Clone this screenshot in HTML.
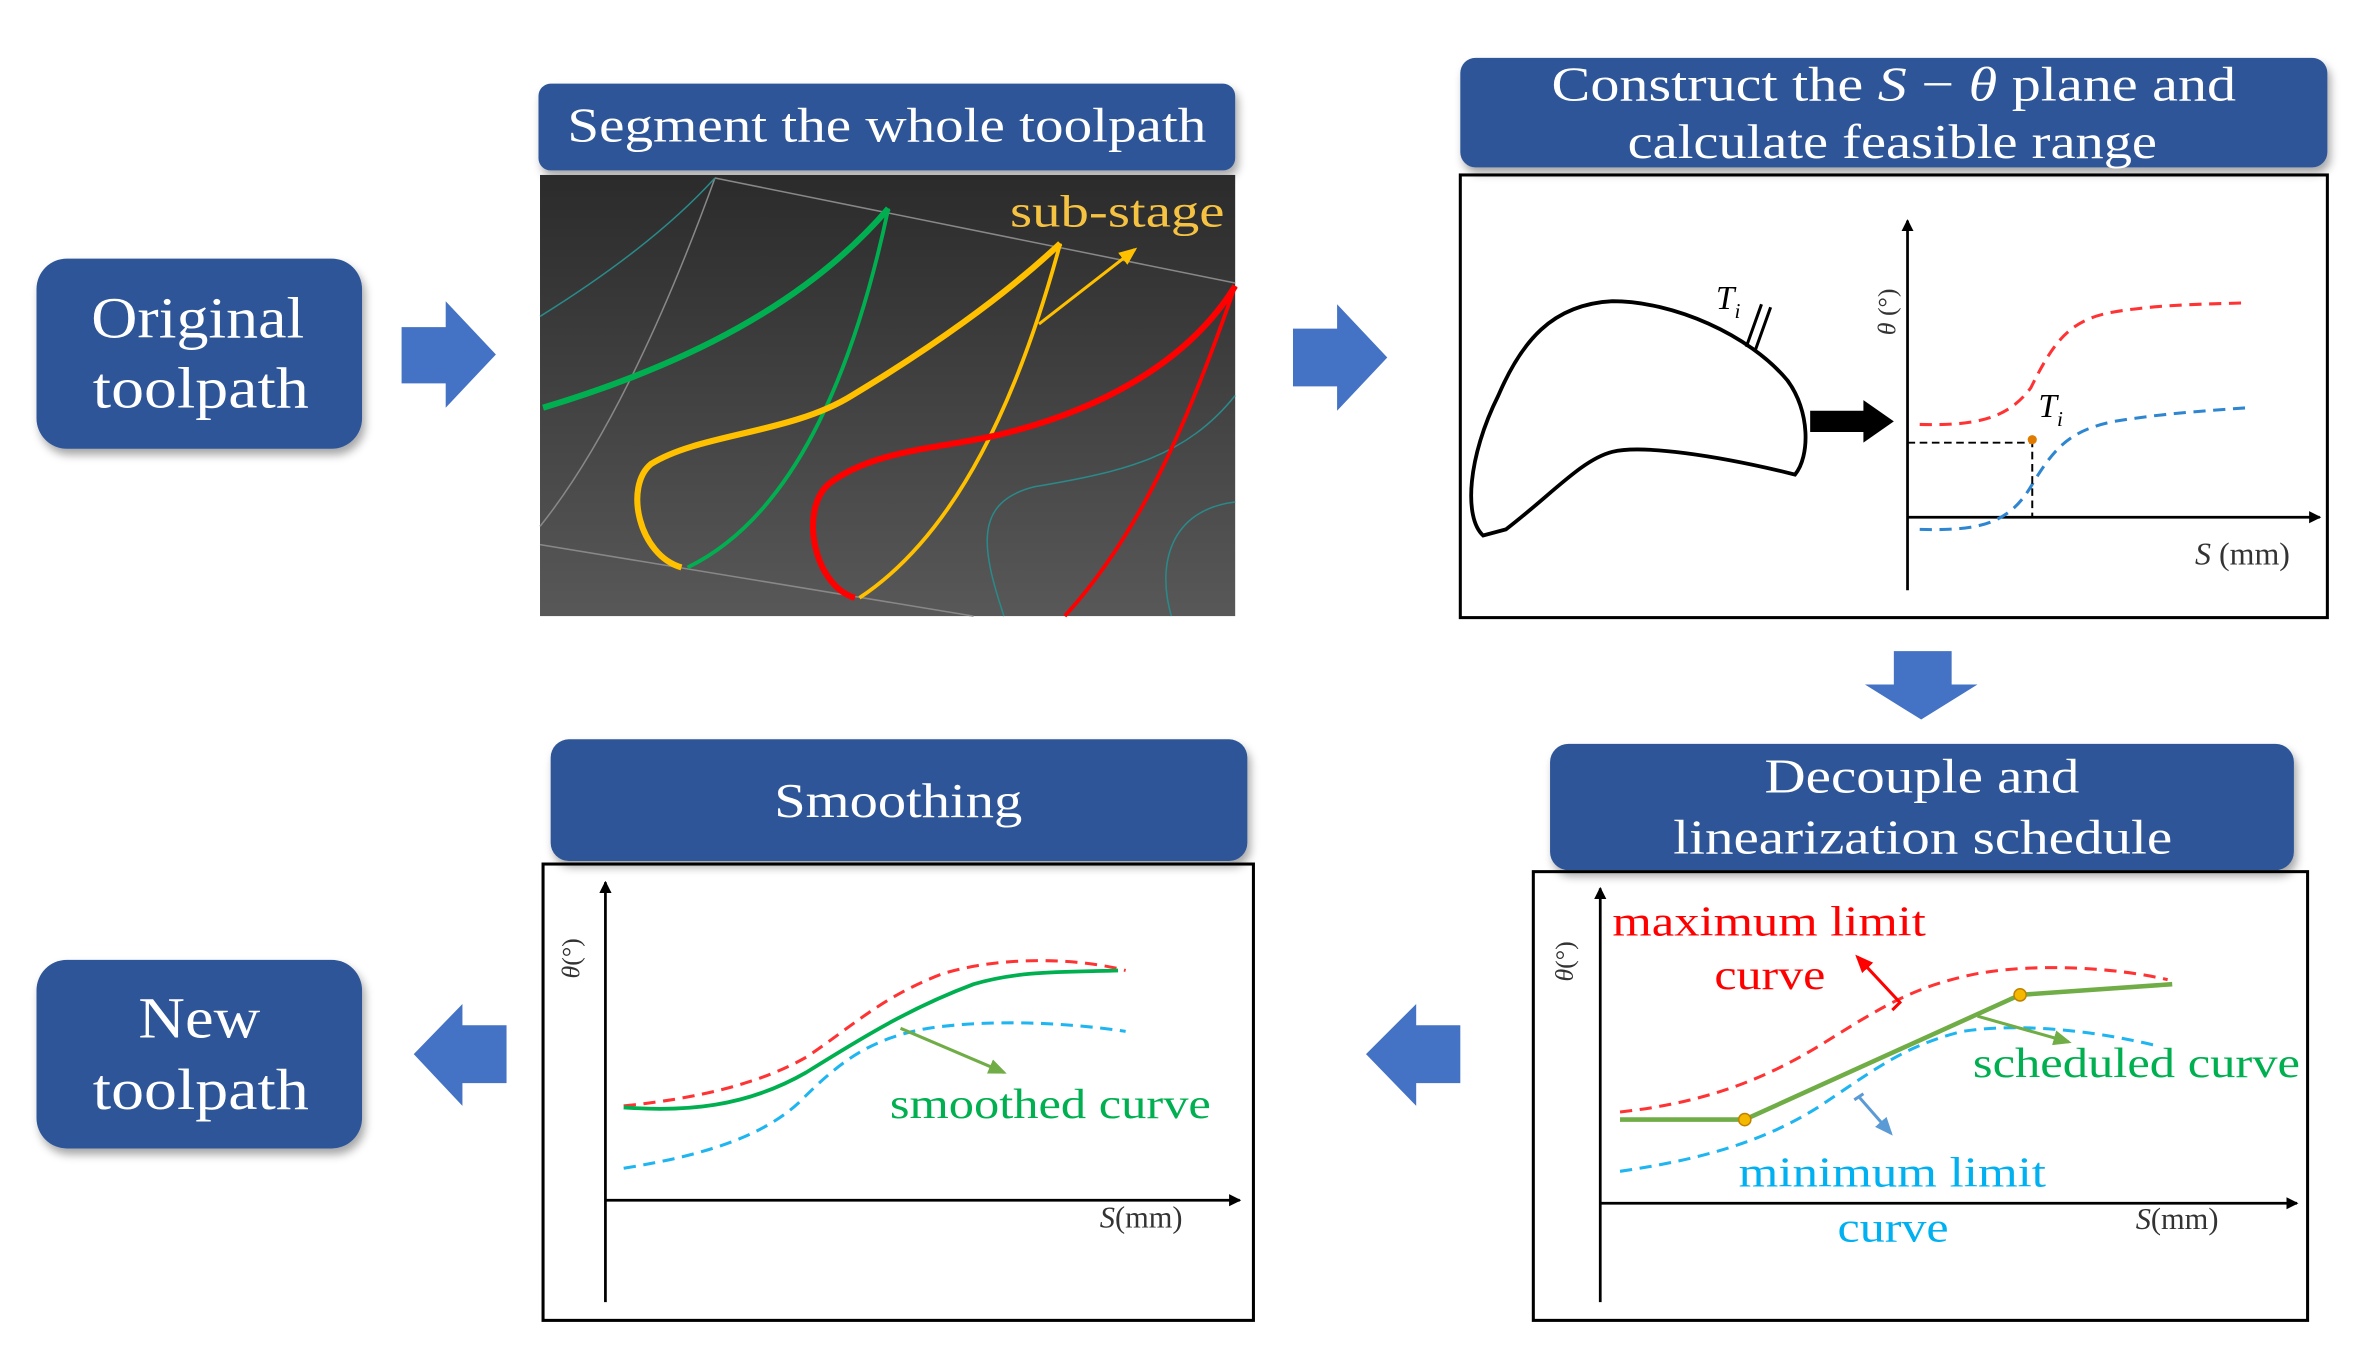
<!DOCTYPE html>
<html><head><meta charset="utf-8"><style>
html,body{margin:0;padding:0;background:#fff}
svg{display:block}
text{font-family:"Liberation Serif",serif}
</style></head><body>
<svg width="2373" height="1363" viewBox="0 0 1560 896" xmlns="http://www.w3.org/2000/svg">
<defs>
<filter id="sh" x="-10%" y="-10%" width="120%" height="130%"><feDropShadow dx="2" dy="4" stdDeviation="3" flood-color="#000" flood-opacity="0.35"/></filter>
<linearGradient id="dk" x1="0" y1="0" x2="0" y2="1"><stop offset="0" stop-color="#2b2b2b"/><stop offset="1" stop-color="#585858"/></linearGradient>
<marker id="ab" markerWidth="8" markerHeight="8" refX="7" refY="4" orient="auto" markerUnits="userSpaceOnUse"><path d="M0,0 L8,4 L0,8z" fill="#000"/></marker>
<marker id="ag" markerWidth="12" markerHeight="10" refX="10" refY="5" orient="auto" markerUnits="userSpaceOnUse"><path d="M0,0 L12,5 L0,10z" fill="#70AD47"/></marker>
<marker id="ar" markerWidth="12" markerHeight="10" refX="10" refY="5" orient="auto" markerUnits="userSpaceOnUse"><path d="M0,0 L12,5 L0,10z" fill="#f00"/></marker>
<marker id="abl" markerWidth="12" markerHeight="10" refX="10" refY="5" orient="auto" markerUnits="userSpaceOnUse"><path d="M0,0 L12,5 L0,10z" fill="#5B9BD5"/></marker>
<marker id="ay" markerWidth="12" markerHeight="10" refX="10" refY="5" orient="auto" markerUnits="userSpaceOnUse"><path d="M0,0 L12,5 L0,10z" fill="#FFC000"/></marker>
</defs>

<rect x="24" y="170" width="214" height="125" rx="20" fill="#2F5597" filter="url(#sh)"/>
<text x="60" y="222" font-size="38" fill="#fff" textLength="140" lengthAdjust="spacingAndGlyphs">Original</text>
<text x="61" y="268" font-size="38" fill="#fff" textLength="142" lengthAdjust="spacingAndGlyphs">toolpath</text>
<rect x="24" y="631" width="214" height="124" rx="20" fill="#2F5597" filter="url(#sh)"/>
<text x="91" y="682" font-size="38" fill="#fff" textLength="80" lengthAdjust="spacingAndGlyphs">New</text>
<text x="61" y="729" font-size="38" fill="#fff" textLength="142" lengthAdjust="spacingAndGlyphs">toolpath</text>

<path d="M264,215 L293,215 L293,198 L326,233 L293,268 L293,252 L264,252z" fill="#4472C4"/>
<path d="M850,216 L879,216 L879,200 L912,235 L879,270 L879,254 L850,254z" fill="#4472C4"/>
<path d="M1245,428 L1283,428 L1283,450 L1300,450 L1263,473 L1226,450 L1245,450z" fill="#4472C4"/>
<path d="M960,674 L931,674 L931,660 L898,693 L931,727 L931,712 L960,712z" fill="#4472C4"/>
<path d="M333,674 L304,674 L304,660 L272,693 L304,727 L304,712 L333,712z" fill="#4472C4"/>

<rect x="354" y="55" width="458" height="57" rx="8" fill="#2F5597" filter="url(#sh)"/>
<text x="373" y="93" font-size="32" fill="#fff" textLength="420" lengthAdjust="spacingAndGlyphs">Segment the whole toolpath</text>
<rect x="355" y="115" width="457" height="290" fill="url(#dk)"/>
<g fill="none">
<path d="M470,117 C440,200 400,290 355,346" stroke="#888" stroke-width="1"/>
<path d="M470,117 L812,186" stroke="#888" stroke-width="1"/>
<path d="M355,358 L640,405" stroke="#888" stroke-width="1"/>
<path d="M355,208 C400,180 440,150 470,117" stroke="#2a8a8a" stroke-width="1"/>
<path d="M660,405 C645,360 640,330 680,320 C740,310 780,300 812,260" stroke="#2a8a8a" stroke-width="1"/>
<path d="M770,405 C760,370 770,335 812,330" stroke="#2a8a8a" stroke-width="1"/>
<path d="M357,268 C450,240 530,200 584,137" stroke="#00B050" stroke-width="4"/>
<path d="M584,137 C560,250 520,340 452,373" stroke="#00B050" stroke-width="2.5"/>
<path d="M448,373 C420,365 410,320 428,305 C460,285 520,285 560,260 C610,230 660,195 697,160" stroke="#FFC000" stroke-width="4"/>
<path d="M697,160 C670,260 630,350 565,393" stroke="#FFC000" stroke-width="2.5"/>
<path d="M562,393 C535,385 525,335 545,318 C575,295 620,295 660,285 C720,270 780,240 812,188" stroke="#f00" stroke-width="4"/>
<path d="M812,188 C780,280 750,350 700,405" stroke="#f00" stroke-width="2.5"/>
<path d="M683,213 L746,164" stroke="#FFC000" stroke-width="2" marker-end="url(#ay)"/>
</g>
<text x="664" y="149" font-size="30" fill="#F5C242" textLength="141" lengthAdjust="spacingAndGlyphs">sub-stage</text>

<rect x="960" y="38" width="570" height="72" rx="10" fill="#2F5597" filter="url(#sh)"/>
<text x="1020" y="66" font-size="32" fill="#fff" textLength="450" lengthAdjust="spacingAndGlyphs">Construct the <tspan font-style="italic">S</tspan> − <tspan font-style="italic">θ</tspan> plane and</text>
<text x="1070" y="104" font-size="32" fill="#fff" textLength="348" lengthAdjust="spacingAndGlyphs">calculate feasible range</text>
<rect x="960" y="115" width="570" height="291" fill="none" stroke="#000" stroke-width="2"/>
<path d="M975,352 C962,340 965,300 985,260 C1000,225 1020,200 1060,198 C1100,198 1150,220 1175,250 C1190,270 1190,300 1180,312 L1172,310 C1130,300 1080,292 1060,297 C1040,302 1020,325 990,348 Z" fill="none" stroke="#000" stroke-width="2.5"/>
<path d="M1148,228 L1158,200 M1154,230 L1164,202" stroke="#000" stroke-width="2"/>
<text x="1128" y="203" font-size="22" font-style="italic">T<tspan font-size="14" dy="6">i</tspan></text>
<path d="M1190,270 L1225,270 L1225,263 L1245,277 L1225,291 L1225,284 L1190,284z" fill="#000"/>
<line x1="1254" y1="388" x2="1254" y2="145" stroke="#000" stroke-width="1.8" marker-end="url(#ab)"/>
<line x1="1254" y1="340" x2="1525" y2="340" stroke="#000" stroke-width="1.8" marker-end="url(#ab)"/>
<path d="M1262,279 C1300,280 1320,275 1335,255 C1350,225 1360,210 1390,205 C1420,200 1450,200 1478,199" fill="none" stroke="#f33" stroke-width="2" stroke-dasharray="8,5"/>
<path d="M1262,348 C1300,349 1320,345 1335,320 C1350,295 1360,283 1390,277 C1420,272 1450,270 1478,268" fill="none" stroke="#2E86D1" stroke-width="2" stroke-dasharray="8,5"/>
<path d="M1254,291 L1336,291 L1336,340" fill="none" stroke="#000" stroke-width="1.3" stroke-dasharray="5,3"/>
<circle cx="1336" cy="289" r="3" fill="#E07A00"/>
<text x="1340" y="274" font-size="22" font-style="italic">T<tspan font-size="14" dy="6">i</tspan></text>
<text transform="translate(1246,205) rotate(-90)" font-size="17" text-anchor="middle" fill="#333"><tspan font-style="italic">θ</tspan> (°)</text>
<text x="1443" y="371" font-size="21" fill="#333"><tspan font-style="italic">S</tspan> (mm)</text>

<rect x="1019" y="489" width="489" height="83" rx="12" fill="#2F5597" filter="url(#sh)"/>
<text x="1160" y="521" font-size="32" fill="#fff" textLength="207" lengthAdjust="spacingAndGlyphs">Decouple and</text>
<text x="1100" y="561" font-size="32" fill="#fff" textLength="328" lengthAdjust="spacingAndGlyphs">linearization schedule</text>
<rect x="1008" y="573" width="509" height="295" fill="none" stroke="#000" stroke-width="2"/>
<line x1="1052" y1="856" x2="1052" y2="584" stroke="#000" stroke-width="1.8" marker-end="url(#ab)"/>
<line x1="1052" y1="791" x2="1510" y2="791" stroke="#000" stroke-width="1.8" marker-end="url(#ab)"/>
<path d="M1065,731 C1120,725 1160,710 1200,685 C1240,660 1260,648 1300,640 C1340,633 1390,636 1425,644" fill="none" stroke="#f33" stroke-width="2" stroke-dasharray="8,5"/>
<path d="M1065,770 C1120,762 1160,750 1195,728 C1230,705 1250,688 1290,678 C1330,672 1380,678 1420,688" fill="none" stroke="#1FB5F0" stroke-width="2" stroke-dasharray="8,5"/>
<polyline points="1065,736 1147,736 1328,654 1428,647" fill="none" stroke="#70AD47" stroke-width="3"/>
<circle cx="1147" cy="736" r="4" fill="#F5B800" stroke="#C08000"/>
<circle cx="1328" cy="654" r="4" fill="#F5B800" stroke="#C08000"/>
<path d="M1244,664 L1249,659 L1221,629" fill="none" stroke="#f00" stroke-width="2" marker-end="url(#ar)"/>
<line x1="1300" y1="668" x2="1360" y2="685" stroke="#70AD47" stroke-width="2" marker-end="url(#ag)"/>
<path d="M1219,723 L1225,719 M1222,721 L1243,745" fill="none" stroke="#5B9BD5" stroke-width="2" marker-end="url(#abl)"/>
<text x="1060" y="615" font-size="28" fill="#f00" textLength="206" lengthAdjust="spacingAndGlyphs">maximum limit</text>
<text x="1127" y="650" font-size="28" fill="#f00" textLength="73" lengthAdjust="spacingAndGlyphs">curve</text>
<text x="1297" y="708" font-size="28" fill="#00B050" textLength="215" lengthAdjust="spacingAndGlyphs">scheduled curve</text>
<text x="1143" y="780" font-size="28" fill="#00B0F0" textLength="202" lengthAdjust="spacingAndGlyphs">minimum limit</text>
<text x="1208" y="816" font-size="28" fill="#00B0F0" textLength="73" lengthAdjust="spacingAndGlyphs">curve</text>
<text transform="translate(1034,632) rotate(-90)" font-size="17" text-anchor="middle" fill="#333"><tspan font-style="italic">θ</tspan>(°)</text>
<text x="1404" y="808" font-size="20" fill="#333"><tspan font-style="italic">S</tspan>(mm)</text>

<rect x="362" y="486" width="458" height="80" rx="12" fill="#2F5597" filter="url(#sh)"/>
<text x="509" y="537" font-size="32" fill="#fff" textLength="163" lengthAdjust="spacingAndGlyphs">Smoothing</text>
<rect x="357" y="568" width="467" height="300" fill="none" stroke="#000" stroke-width="2"/>
<line x1="398" y1="856" x2="398" y2="580" stroke="#000" stroke-width="1.8" marker-end="url(#ab)"/>
<line x1="398" y1="789" x2="815" y2="789" stroke="#000" stroke-width="1.8" marker-end="url(#ab)"/>
<path d="M410,727 C460,722 500,712 530,695 C560,675 580,655 620,640 C660,628 710,630 740,638" fill="none" stroke="#f33" stroke-width="2" stroke-dasharray="8,5"/>
<path d="M410,768 C460,760 500,748 525,725 C550,700 570,683 610,676 C650,670 700,672 740,678" fill="none" stroke="#1FB5F0" stroke-width="2" stroke-dasharray="8,5"/>
<path d="M410,728 C450,731 490,728 530,705 C570,680 600,662 640,647 C670,638 700,639 735,638" fill="none" stroke="#00B050" stroke-width="2.5"/>
<line x1="592" y1="676" x2="660" y2="705" stroke="#70AD47" stroke-width="2" marker-end="url(#ag)"/>
<text x="585" y="735" font-size="28" fill="#00B050" textLength="211" lengthAdjust="spacingAndGlyphs">smoothed curve</text>
<text transform="translate(381,630) rotate(-90)" font-size="17" text-anchor="middle" fill="#333"><tspan font-style="italic">θ</tspan>(°)</text>
<text x="723" y="807" font-size="20" fill="#333"><tspan font-style="italic">S</tspan>(mm)</text>
</svg>
</body></html>
